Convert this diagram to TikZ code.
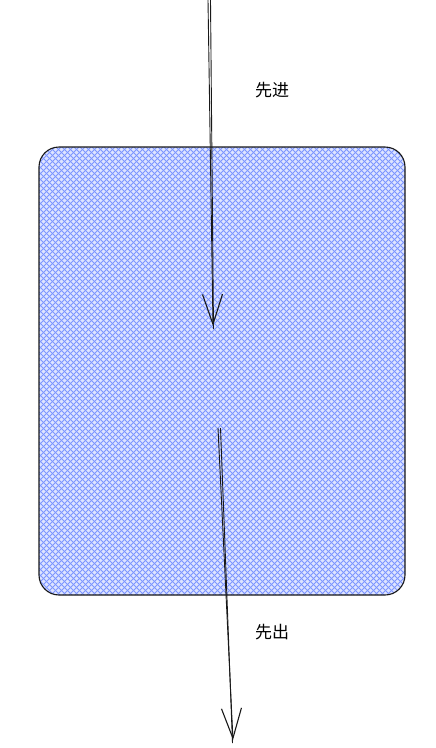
\documentclass[tikz,border=0pt]{standalone}
\usepackage{fontspec}
\newfontfamily\cjk{Noto Sans CJK SC}
\usetikzlibrary{arrows.meta}
\definecolor{hatchblue}{RGB}{70,105,255}
\tikzset{
  sketch/.style={line width=0.9pt, black!90},
  flow/.style={sketch, -{Straight Barb[length=30pt, width=20pt, line width=1.1pt]}},
  tag/.style={font=\cjk\fontsize{17}{20}\selectfont, inner sep=0pt},
  hatch/.style={hatchblue!70, line width=1pt}
}
\begin{document}
\begin{tikzpicture}[x=1pt, y=-1pt]
  \useasboundingbox (0,0) rectangle (436,748);

  % Container fill (cross-hatched)
  \begin{scope}
    \clip[rounded corners=20pt] (39,147) rectangle (405,595);
    \fill[hatchblue!18] (39,147) rectangle (405,595);
    \foreach \k in {-500,-494,...,900} {
      \draw[hatch] (\k,600) -- (\k+460,140);
      \draw[hatch] (\k+3,140) -- (\k+463,600);
    }
  \end{scope}
  \draw[sketch, line width=1.1pt, rounded corners=20pt] (39,147) rectangle (405,595);

  % Points of the two arrows
  \coordinate (inTop) at (208,0);
  \coordinate (inEnd) at (213,326);
  \coordinate (outTop) at (218,428);
  \coordinate (outEnd) at (233,740);

  % Arrows
  \draw[flow] (inTop) -- (inEnd);
  \draw[sketch] ([xshift=2.5pt]inTop) -- ([xshift=0.5pt,yshift=-3pt]inEnd);
  \draw[flow] (outTop) -- (outEnd);
  \draw[sketch] ([xshift=2.5pt]outTop) -- ([xshift=-0.5pt,yshift=-3pt]outEnd);

  % Labels
  \node[tag] (inLabel) at (272,90) {先进};
  \node[tag] (outLabel) at (272,632) {先出};
\end{tikzpicture}
\end{document}
